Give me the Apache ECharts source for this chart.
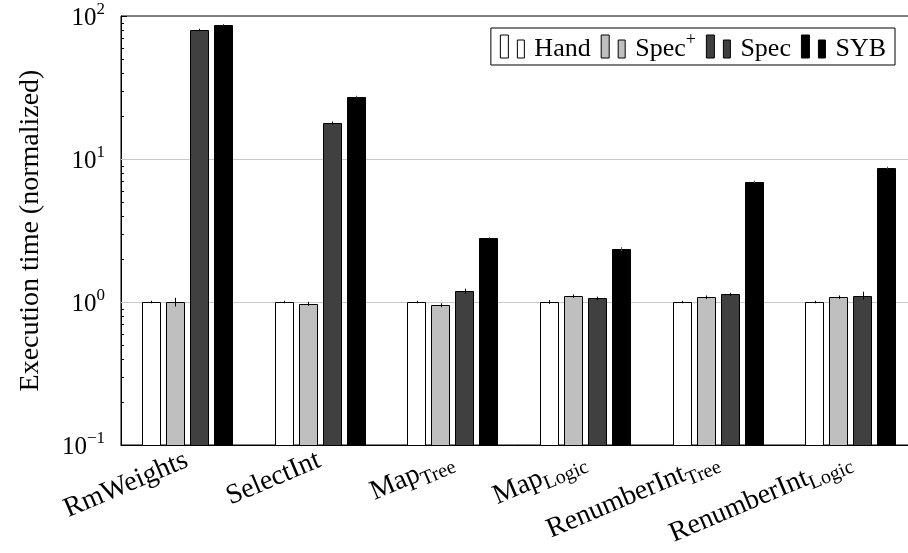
<!DOCTYPE html>
<html><head><meta charset="utf-8">
<script src="https://cdn.jsdelivr.net/npm/echarts@6/dist/echarts.min.js"></script>
<style>html,body{margin:0;padding:0;background:#fff}#c{width:908px;height:553px}</style>
</head><body><div id="c"></div>
<script>
// ---- data ----
const categories = ['RmWeights','SelectInt','Map_Tree','Map_Logic','RenumberInt_Tree','RenumberInt_Logic'];
const seriesNames = ['Hand','Spec+','Spec','SYB'];
const hand     = [1.00, 1.00, 1.00, 1.00, 1.00, 1.00];
const specPlus = [1.00, 0.97, 0.95, 1.10, 1.08, 1.08];
const spec     = [80.0, 17.9, 1.19, 1.06, 1.13, 1.11];
const syb      = [87.0, 27.3, 2.81, 2.34, 6.94, 8.69];
const handErr     = [0.02, 0.02, 0.02, 0.03, 0.02, 0.02];
const specPlusErr = [0.07, 0.03, 0.03, 0.03, 0.03, 0.03];
const specErr     = [1.5, 0.4, 0.05, 0.03, 0.03, 0.07];
const sybErr      = [1.0, 0.4, 0.03, 0.08, 0.12, 0.15];
const yMin = 0.1, yMax = 100;
const gridValues = [1, 10];
const minorTickValues = [0.2,0.3,0.4,0.5,0.6,0.7,0.8,0.9, 2,3,4,5,6,7,8,9, 20,30,40,50,60,70,80,90];

// ---- style ----
const FONT = 'Liberation Serif';
const colors = ['#ffffff', '#bfbfbf', '#404040', '#000000'];
const BAR_W = 19, BAR_GAP = 5;
const offsets = [0,1,2,3].map(i => (i - 1.5) * (BAR_W + BAR_GAP));
const allVals = [hand, specPlus, spec, syb];
const allErr = [handErr, specPlusErr, specErr, sybErr];

function barRender(s) {
  return function (params, api) {
    const cat = api.value(0), v = api.value(1);
    const top = api.coord([cat, v]);
    const base = api.coord([cat, yMin]);
    const x = Math.round(top[0] + offsets[s] - BAR_W / 2) + 0.5;
    return {type: 'rect', shape: {x: x, y: Math.round(top[1]) + 0.5, width: BAR_W - 1, height: Math.round(base[1]) - Math.round(top[1])},
      style: {fill: colors[s], stroke: '#000', lineWidth: 1}};
  };
}

const barSeries = seriesNames.map((n, s) => ({
  name: n, type: 'custom', z: 2,
  itemStyle: {color: colors[s], borderColor: '#000', borderWidth: 1},
  data: allVals[s].map((v, i) => [i, v]),
  encode: {x: 0, y: 1},
  renderItem: barRender(s)
}));

const errData = [];
allVals.forEach((arr, s) => arr.forEach((v, i) => errData.push([i, v - allErr[s][i], v + allErr[s][i], s])));

const ICON = 'path://M0,0H8V23H0Z M17,5H24V23H17Z';
const rich = {
  m: {fontFamily: FONT, fontSize: 26, color: '#000', verticalAlign: 'bottom', lineHeight: 31},
  sup: {fontFamily: FONT, fontSize: 18, color: '#000', verticalAlign: 'top', lineHeight: 31}
};
const richTick = {
  m: {fontFamily: FONT, fontSize: 25, color: '#000', verticalAlign: 'bottom', lineHeight: 30},
  sup: {fontFamily: FONT, fontSize: 17, color: '#000', verticalAlign: 'top', lineHeight: 30}
};
const richSub = {
  m: {fontFamily: FONT, fontSize: 28, color: '#000', verticalAlign: 'top', lineHeight: 32},
  sub: {fontFamily: FONT, fontSize: 20, color: '#000', verticalAlign: 'bottom', lineHeight: 32}
};

const option = {
  animation: false,
  textStyle: {fontFamily: FONT},
  grid: {left: 121, top: 16, width: 796, height: 429, show: true, borderColor: '#000', borderWidth: 1,
    backgroundColor: 'transparent', containLabel: false, outerBoundsMode: 'none'},
  legend: {
    right: 13, top: 28, padding: [3, 9, 3, 9],
    backgroundColor: '#fff', borderColor: '#000', borderWidth: 1, borderRadius: 0,
    itemWidth: 24, itemHeight: 23, itemGap: 10,
    data: seriesNames.map((n, s) => ({name: n, icon: ICON, itemStyle: {color: colors[s], borderColor: '#000', borderWidth: 1}})),
    formatter: n => n === 'Spec+' ? '{m|Spec}{sup|+}' : '{m|' + n + '}',
    textStyle: {rich: rich, padding: [0, 0, 0, 5]}
  },
  xAxis: {
    type: 'category', data: categories,
    axisLine: {lineStyle: {color: '#000', width: 1}},
    axisTick: {show: false},
    axisLabel: {
      rotate: 23, margin: 16, interval: 0,
      formatter: v => { const p = v.split('_'); return '{m|' + p[0] + '}' + (p[1] ? '{sub|' + p[1] + '}' : ''); },
      rich: richSub
    }
  },
  yAxis: {
    type: 'log', logBase: 10, min: yMin, max: yMax,
    axisLine: {show: true, lineStyle: {color: '#000'}},
    axisTick: {show: true, inside: true, length: 6, lineStyle: {color: '#000'}},
    splitLine: {show: false},
    axisLabel: {
      margin: 16,
      formatter: v => { const e = Math.round(Math.log10(v)); return '{m|10}{sup|' + (e < 0 ? '\u2212' + (-e) : e) + '}'; },
      rich: richTick
    },
    name: 'Execution time (normalized)', nameLocation: 'middle', nameGap: 76,
    nameTextStyle: {fontFamily: FONT, fontSize: 28, color: '#000'}
  },
  series: [
    {
      type: 'custom', z: 1, silent: true,
      data: gridValues.map(v => [0, v]), encode: {x: 0, y: 1},
      renderItem: (params, api) => {
        const cs = params.coordSys;
        const y = Math.round(api.coord([0, api.value(1)])[1]) + 0.5;
        return {type: 'line', shape: {x1: cs.x, y1: y, x2: cs.x + cs.width, y2: y}, style: {stroke: '#c8c8c8', lineWidth: 1}};
      }
    },
    ...barSeries,
    {
      type: 'custom', z: 3, silent: true,
      data: errData, encode: {x: 0, y: [1, 2]},
      renderItem: (params, api) => {
        const cat = api.value(0), s = api.value(3);
        const p1 = api.coord([cat, api.value(1)]);
        const p2 = api.coord([cat, api.value(2)]);
        const x = Math.round(p1[0] + offsets[s]) + 0.5;
        return {type: 'line', shape: {x1: x, y1: p1[1], x2: x, y2: p2[1]}, style: {stroke: s === 3 ? '#555' : '#000', lineWidth: 1}};
      }
    },
    {
      type: 'custom', z: 3, silent: true,
      data: minorTickValues.map(v => [0, v]), encode: {x: 0, y: 1},
      renderItem: (params, api) => {
        const cs = params.coordSys;
        const y = Math.round(api.coord([0, api.value(1)])[1]) + 0.5;
        return {type: 'line', shape: {x1: cs.x, y1: y, x2: cs.x + 3, y2: y}, style: {stroke: '#000', lineWidth: 1}};
      }
    }
  ]
};
const chart = echarts.init(document.getElementById('c'), null, {renderer: 'canvas'});
chart.setOption(option);
</script>
</body></html>
